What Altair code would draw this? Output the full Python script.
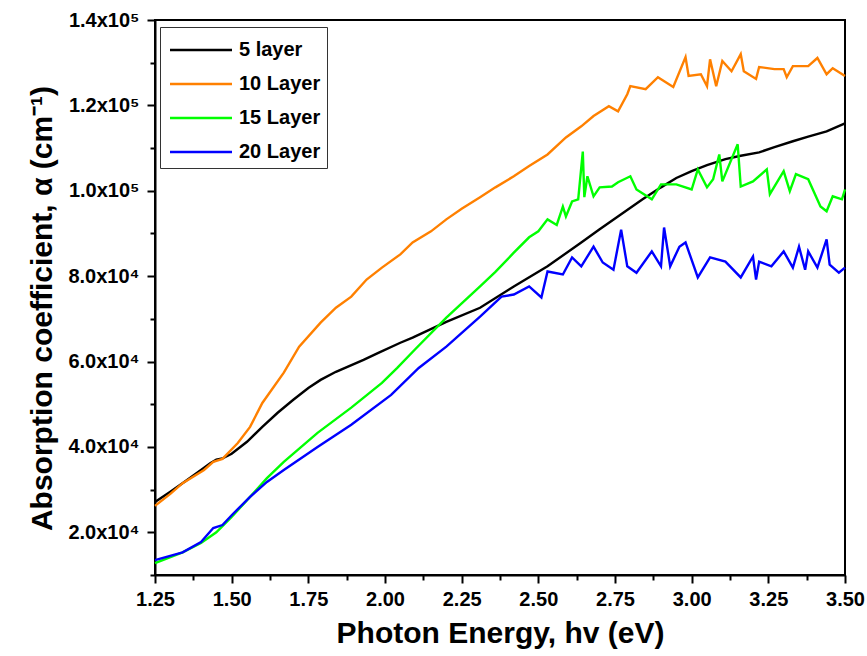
import altair as alt
import pandas as pd

# values of alpha in units of 1e4 cm^-1
names = ["5 layer", "10 Layer", "15 Layer", "20 Layer"]
colors = ["#000000", "#FF8000", "#00FF00", "#0000FF"]

x5 = [1.25, 1.30, 1.35, 1.40, 1.43, 1.45, 1.47, 1.50, 1.55, 1.60, 1.65, 1.70, 1.75, 1.79, 1.84, 1.93,
      1.98, 2.05, 2.09, 2.20, 2.31, 2.42, 2.53, 2.64, 2.70, 2.77, 2.84, 2.90, 2.95, 3.00, 3.05, 3.11,
      3.16, 3.22, 3.27, 3.33, 3.38, 3.44, 3.50]
y5 = [2.71, 2.95, 3.20, 3.46, 3.62, 3.70, 3.73, 3.84, 4.12, 4.47, 4.80, 5.10, 5.38, 5.57, 5.76, 6.04,
      6.21, 6.44, 6.56, 6.93, 7.26, 7.76, 8.23, 8.79, 9.10, 9.45, 9.80, 10.08, 10.30, 10.46, 10.60, 10.74,
      10.82, 10.90, 11.02, 11.16, 11.27, 11.39, 11.58]

x10 = [1.25, 1.30, 1.34, 1.41, 1.44, 1.47, 1.52, 1.56, 1.60, 1.67, 1.72, 1.79, 1.84, 1.89, 1.94, 1.99,
       2.05, 2.09, 2.15, 2.20, 2.25, 2.31, 2.36, 2.42, 2.47, 2.53, 2.59, 2.64, 2.68, 2.73, 2.76, 2.79,
       2.80, 2.85, 2.89, 2.94, 2.98, 2.99, 3.03, 3.05, 3.06, 3.08, 3.10, 3.13, 3.16, 3.17, 3.21, 3.22,
       3.27, 3.30, 3.31, 3.33, 3.38, 3.41, 3.44, 3.46, 3.50]
y10 = [2.62, 2.90, 3.15, 3.46, 3.65, 3.72, 4.09, 4.47, 5.03, 5.74, 6.35, 6.91, 7.26, 7.52, 7.92, 8.20,
       8.51, 8.79, 9.05, 9.33, 9.58, 9.85, 10.08, 10.34, 10.58, 10.85, 11.25, 11.51, 11.75, 11.98, 11.86, 12.26,
       12.45, 12.38, 12.66, 12.43, 13.13, 12.69, 12.73, 12.45, 13.08, 12.45, 13.04, 12.80, 13.20, 12.80, 12.62, 12.90,
       12.85, 12.85, 12.66, 12.92, 12.92, 13.11, 12.73, 12.87, 12.69]

x15 = [1.25, 1.34, 1.40, 1.45, 1.50, 1.56, 1.615, 1.67, 1.78, 1.89, 1.99, 2.04, 2.10, 2.20, 2.31, 2.36,
       2.42, 2.47, 2.50, 2.53, 2.56, 2.58, 2.59, 2.61, 2.63, 2.645, 2.65, 2.66, 2.68, 2.70, 2.74, 2.76,
       2.80, 2.82, 2.87, 2.90, 2.95, 3.00, 3.02, 3.05, 3.07, 3.09, 3.10, 3.15, 3.16, 3.20, 3.245, 3.255,
       3.30, 3.32, 3.34, 3.38, 3.42, 3.44, 3.46, 3.49, 3.50]
y15 = [1.28, 1.53, 1.75, 2.00, 2.36, 2.83, 3.27, 3.65, 4.33, 4.92, 5.50, 5.85, 6.30, 7.03, 7.76, 8.10,
       8.55, 8.91, 9.05, 9.33, 9.20, 9.63, 9.40, 9.75, 9.80, 10.92, 9.85, 10.34, 9.87, 10.08, 10.10, 10.20,
       10.34, 10.03, 9.80, 10.15, 10.15, 10.03, 10.50, 10.08, 10.27, 10.85, 10.22, 11.09, 10.10, 10.22, 10.50, 9.92,
       10.46, 9.99, 10.39, 10.27, 9.63, 9.52, 9.87, 9.80, 10.03]

x20 = [1.25, 1.34, 1.40, 1.44, 1.47, 1.50, 1.56, 1.615, 1.67, 1.78, 1.89, 2.02, 2.11, 2.20, 2.31, 2.38,
       2.42, 2.47, 2.51, 2.53, 2.58, 2.61, 2.64, 2.68, 2.71, 2.745, 2.77, 2.79, 2.82, 2.87, 2.90, 2.91,
       2.93, 2.96, 2.98, 3.02, 3.06, 3.11, 3.16, 3.20, 3.21, 3.22, 3.26, 3.30, 3.33, 3.35, 3.37, 3.38,
       3.41, 3.44, 3.45, 3.48, 3.50]
y20 = [1.35, 1.53, 1.77, 2.10, 2.17, 2.40, 2.83, 3.18, 3.46, 4.00, 4.52, 5.22, 5.85, 6.35, 7.05, 7.52,
       7.57, 7.76, 7.50, 8.11, 8.04, 8.44, 8.23, 8.69, 8.32, 8.15, 9.09, 8.23, 8.08, 8.58, 8.23, 9.14,
       8.23, 8.69, 8.79, 7.97, 8.44, 8.34, 7.97, 8.46, 7.92, 8.34, 8.23, 8.58, 8.20, 8.69, 8.15, 8.58,
       8.20, 8.86, 8.27, 8.08, 8.20]

x_major = [1.25, 1.50, 1.75, 2.00, 2.25, 2.50, 2.75, 3.00, 3.25, 3.50]
x_minor = [1.375, 1.625, 1.875, 2.125, 2.375, 2.625, 2.875, 3.125, 3.375]
y_major = [2, 4, 6, 8, 10, 12, 14]
y_minor = [1, 3, 5, 7, 9, 11, 13]

rows = []
for name, xs, ys in zip(names, [x5, x10, x15, x20], [y5, y10, y15, y20]):
    for i, (a, b) in enumerate(zip(xs, ys)):
        rows.append({"series": name, "x": a, "y": b, "i": i})
df = pd.DataFrame(rows)

FONT = "Liberation Sans"
xscale = alt.Scale(domain=[1.25, 3.5], nice=False, zero=False)
yscale = alt.Scale(domain=[1, 14], nice=False, zero=False)

ylabel = ("datum.value >= 10 ? format(datum.value / 10, '.1f') + 'x10\u2075' : "
          "format(datum.value, '.1f') + 'x10\u2074'")

main = alt.Chart(df).mark_line(strokeWidth=2.4).encode(
    x=alt.X("x:Q", scale=xscale, axis=alt.Axis(
        values=x_major, format=".2f", tickSize=8, tickWidth=2, tickColor="black",
        domainColor="black", domainWidth=2, labelFont=FONT, labelFontSize=20,
        labelFontWeight="bold", labelColor="black", labelPadding=6, labelFlush=False,
        grid=False, title="Photon Energy, hv (eV)", titleFont=FONT, titleFontSize=30,
        titleFontWeight="bold", titleColor="black", titlePadding=9)),
    y=alt.Y("y:Q", scale=yscale, axis=alt.Axis(
        values=y_major, labelExpr=ylabel, tickSize=8, tickWidth=2, tickColor="black",
        domainColor="black", domainWidth=2, labelFont=FONT, labelFontSize=20,
        labelFontWeight="bold", labelColor="black", labelPadding=8, labelFlush=False,
        grid=False, title="Absorption coefficient, \u03b1 (cm\u207b\u00b9)", titleFont=FONT,
        titleFontSize=30, titleFontWeight="bold", titleColor="black", titlePadding=10,
        titleY=288)),
    color=alt.Color("series:N", scale=alt.Scale(domain=names, range=colors), sort=names,
                    legend=alt.Legend(title=None, orient="none", legendX=5, legendY=7,
                                      strokeColor="#333333", fillColor="white", padding=6,
                                      symbolType="M-2,0L2,0", symbolSize=961, symbolStrokeWidth=2.5,
                                      symbolOffset=18, labelFont=FONT, labelFontSize=20,
                                      labelFontWeight="bold", labelColor="black", rowPadding=7,
                                      labelOffset=21)),
    order="i:Q",
)

minor = alt.Chart(df).mark_line(strokeOpacity=0).encode(
    x=alt.X("x:Q", scale=xscale, title="", axis=alt.Axis(
        orient="bottom", values=x_minor, labels=False, tickSize=5, tickWidth=2,
        tickColor="black", domain=False, grid=False)),
    y=alt.Y("y:Q", scale=yscale, title="", axis=alt.Axis(
        orient="left", values=y_minor, labels=False, tickSize=5, tickWidth=2,
        tickColor="black", domain=False, grid=False)),
    detail="series:N",
)

chart = alt.layer(main, minor).resolve_axis(x="independent", y="independent").properties(
    width=690, height=555, autosize="none",
    padding={"left": 155, "top": 20, "right": 22, "bottom": 81},
).configure_view(stroke="black", strokeWidth=2)

chart.save("out.html", embed_options={"renderer": "svg", "actions": False})
